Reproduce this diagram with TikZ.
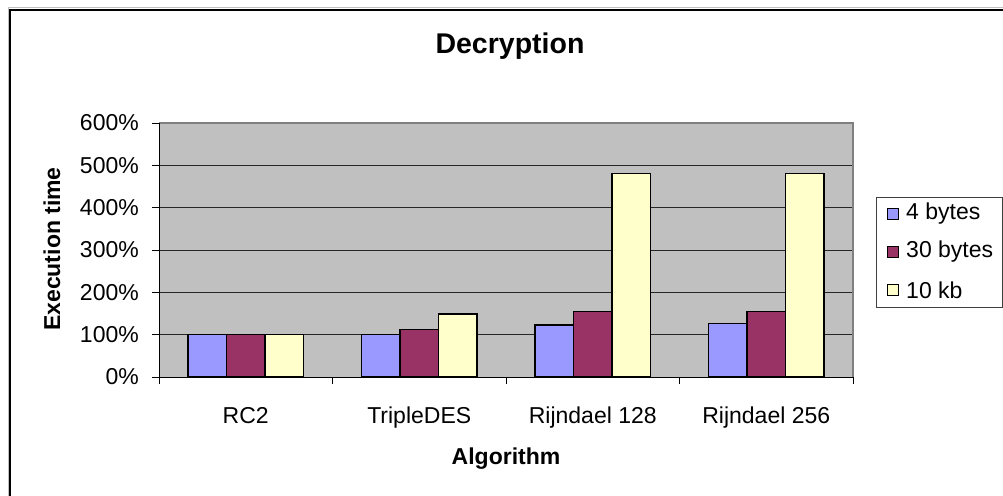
\documentclass[tikz,border=0pt]{standalone}
\usepackage{fontspec}
\setmainfont{Liberation Sans}
\definecolor{cA}{HTML}{9999FF}
\definecolor{cB}{HTML}{993366}
\definecolor{cC}{HTML}{FFFFCC}
\definecolor{plotbg}{HTML}{C0C0C0}
\begin{document}
\begin{tikzpicture}[x=1pt,y=-1pt,
  barbox/.style={draw=black,line width=1.3pt},
  grid line/.style={draw=black!85,line width=0.8pt},
  axis line/.style={draw=black,line width=1pt},
  ticklab/.style={font=\fontsize{23}{27}\selectfont,inner sep=0pt},
  axtitle/.style={font=\fontsize{23}{27}\selectfont\bfseries,inner sep=0pt},
  legsq/.style={draw=black,line width=1pt,minimum size=11pt,inner sep=0pt}]
\useasboundingbox (0,0) rectangle (1003,495);
\clip (0,0) rectangle (1003,495);
\fill[white] (0,0) rectangle (1003,495);
% outer chart border
\draw[black!25,line width=1pt] (8,8) rectangle (1030,520);
\draw[black,line width=2pt] (10,10) rectangle (1030,520);
% title
\node[font=\fontsize{28.5}{33}\selectfont\bfseries,inner sep=0pt] (title) at (510,46) {Decryption};
% plot area
\fill[plotbg] (159,123) rectangle (853,377);
\foreach \k in {1,...,5} \draw[grid line] (159,{377-42.333*\k}) -- (853,{377-42.333*\k});
\draw[draw=gray,line width=1.2pt] (159,123) -- (853,123) -- (853,377);
% bars
\foreach \i/\a/\b/\c in {0/100/100/100,1/100/113/149,2/123/154/481,3/127/154/481}{
  \pgfmathsetmacro{\xs}{159+173.5*\i+29}
  \draw[barbox,fill=cA] (\xs,377) rectangle ({\xs+38.5},{377-0.42333*\a});
  \draw[barbox,fill=cB] ({\xs+38.5},377) rectangle ({\xs+77},{377-0.42333*\b});
  \draw[barbox,fill=cC] ({\xs+77},377) rectangle ({\xs+115.5},{377-0.42333*\c});
}
% axes
\draw[axis line] (159,123) -- (159,377) -- (853,377);
\foreach \k in {0,...,6} \draw[axis line] (152,{377-42.333*\k}) -- (159,{377-42.333*\k});
\foreach \k in {0,...,4} \draw[axis line] ({159+173.5*\k},377) -- ({159+173.5*\k},384);
% y tick labels
\foreach \k in {0,...,6}
  \node[ticklab,anchor=east] (y\k) at (139,{377-42.333*\k}) {\pgfmathparse{int(100*\k)}\pgfmathresult\%};
% category labels
\node[ticklab,anchor=base] (c1) at (245.75,423) {RC2};
\node[ticklab,anchor=base] (c2) at (419.25,423) {TripleDES};
\node[ticklab,anchor=base] (c3) at (592.75,423) {Rijndael 128};
\node[ticklab,anchor=base] (c4) at (766.25,423) {Rijndael 256};
% axis titles
\node[axtitle,anchor=base] (xt) at (506,464) {Algorithm};
\node[axtitle,rotate=90,anchor=base] (yt) at (60,249) {Execution time};
% legend
\draw[black!75,line width=0.8pt,fill=white] (876,197) rectangle (1002,307);
\node[legsq,fill=cA] (l1) at (893,214) {};
\node[legsq,fill=cB] (l2) at (893,252) {};
\node[legsq,fill=cC] (l3) at (893,290) {};
\node[ticklab,anchor=west] (t1) at (906,214) {4 bytes};
\node[ticklab,anchor=west] (t2) at (906,252) {30 bytes};
\node[ticklab,anchor=west] (t3) at (906,290) {10 kb};
\end{tikzpicture}
\end{document}
